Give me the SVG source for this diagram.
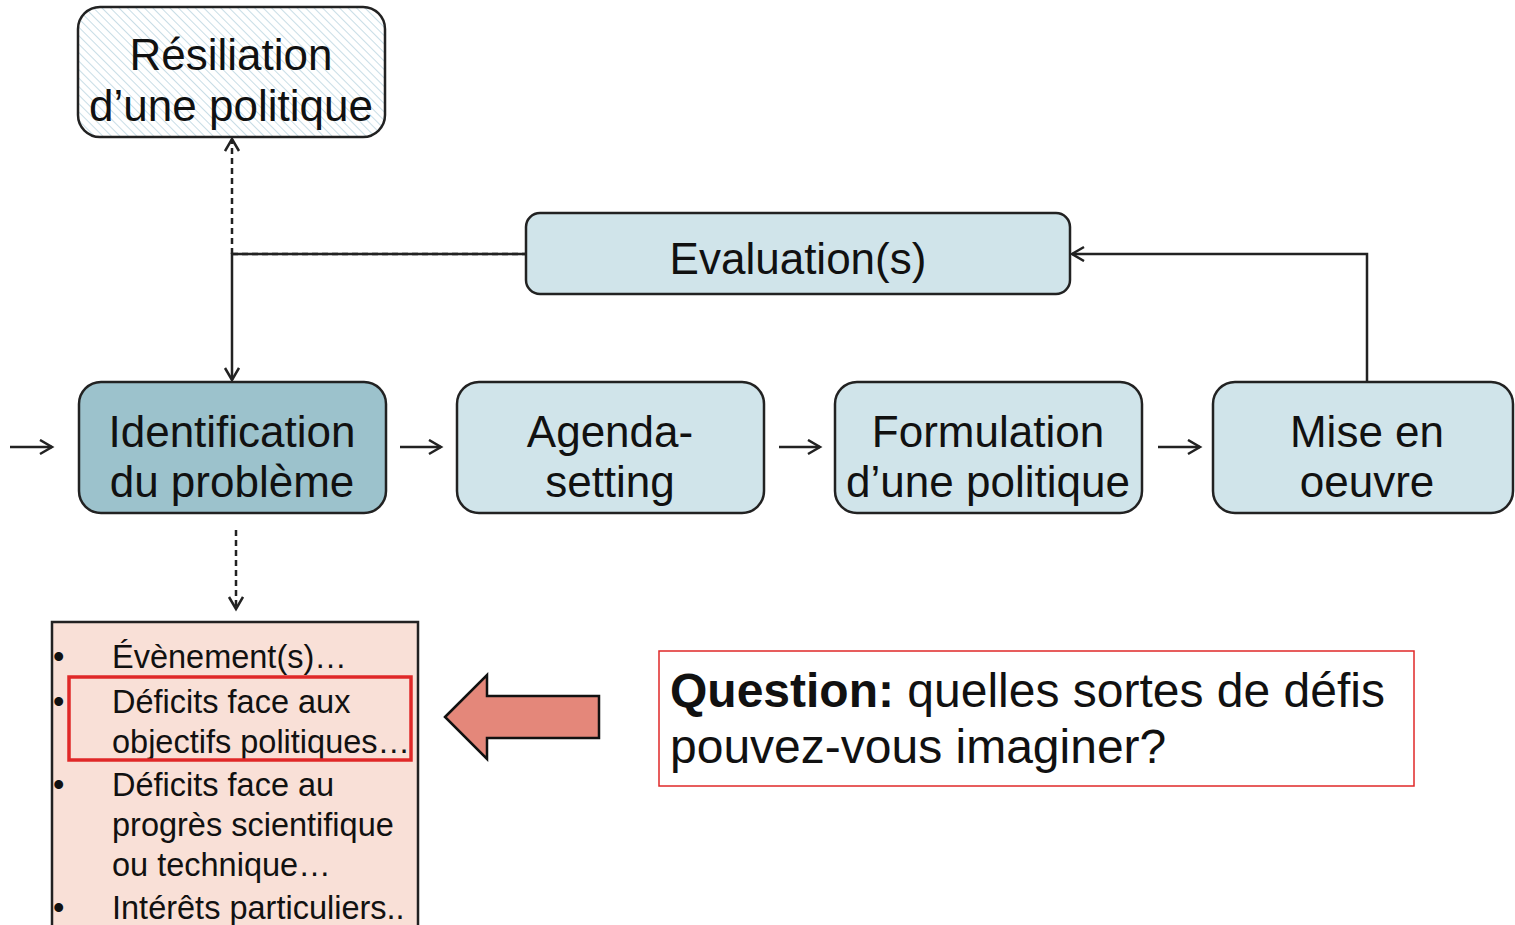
<svg xmlns="http://www.w3.org/2000/svg" width="1515" height="925" viewBox="0 0 1515 925">
<style>
.box{stroke:#222;stroke-width:2.5}
.lb{fill:#d0e4ea}
.t{font-family:"Liberation Sans",Arial,sans-serif;font-size:44px;fill:#111;text-anchor:middle}
.b{font-family:"Liberation Sans",Arial,sans-serif;font-size:32.5px;fill:#111}
.q{font-family:"Liberation Sans",Arial,sans-serif;font-size:48px;fill:#111}
.c{stroke:#222;stroke-width:2.5;fill:none}
.d{stroke-dasharray:6,4}
</style>
<defs>
<pattern id="hatch" width="6" height="6" patternUnits="userSpaceOnUse" patternTransform="rotate(-45)">
<rect width="6" height="6" fill="#fff"/>
<line x1="0" y1="0" x2="0" y2="6" stroke="#c8dde6" stroke-width="2"/>
</pattern>
<marker id="ah" markerUnits="userSpaceOnUse" markerWidth="20" markerHeight="20" refX="14" refY="8" orient="auto">
<path d="M2,1 L14,8 L2,15" fill="none" stroke="#222" stroke-width="2.5"/>
</marker>
</defs>
<g id="connectors">
<line class="c" x1="10" y1="447" x2="52" y2="447" marker-end="url(#ah)"/>
<line class="c" x1="400" y1="447" x2="441" y2="447" marker-end="url(#ah)"/>
<line class="c" x1="779" y1="447" x2="820" y2="447" marker-end="url(#ah)"/>
<line class="c" x1="1158" y1="447" x2="1200" y2="447" marker-end="url(#ah)"/>
<polyline class="c" points="1367,382 1367,254 1072,254" marker-end="url(#ah)"/>
<polyline class="c" points="526,254 232,254 232,380" marker-end="url(#ah)"/>
<line class="c d" x1="232" y1="254" x2="526" y2="254" stroke-width="3"/>
<line class="c d" x1="232" y1="254" x2="232" y2="139" marker-end="url(#ah)"/>
<line class="c d" x1="236" y1="530" x2="236" y2="609" marker-end="url(#ah)"/>
</g>
<g id="resiliation">
<rect class="box" x="78" y="7" width="307" height="130" rx="22" fill="url(#hatch)"/>
<text class="t" x="231" y="70">Résiliation</text>
<text class="t" x="231" y="121">d’une politique</text>
</g>
<g id="evaluation">
<rect class="box lb" x="526" y="213" width="544" height="81" rx="14"/>
<text class="t" x="798" y="274">Evaluation(s)</text>
</g>
<g id="identification">
<rect class="box" x="79" y="382" width="307" height="131" rx="22" fill="#9cc2cc"/>
<text class="t" x="232" y="447">Identification</text>
<text class="t" x="232" y="497">du problème</text>
</g>
<g id="agenda">
<rect class="box lb" x="457" y="382" width="307" height="131" rx="22"/>
<text class="t" x="610" y="447">Agenda-</text>
<text class="t" x="610" y="497">setting</text>
</g>
<g id="formulation">
<rect class="box lb" x="835" y="382" width="307" height="131" rx="22"/>
<text class="t" x="988" y="447">Formulation</text>
<text class="t" x="988" y="497">d’une politique</text>
</g>
<g id="mise">
<rect class="box lb" x="1213" y="382" width="300" height="131" rx="22"/>
<text class="t" x="1367" y="447">Mise en</text>
<text class="t" x="1367" y="497">oeuvre</text>
</g>
<g id="defis">
<rect x="52" y="622" width="366" height="320" fill="#f9e0d7" stroke="#222" stroke-width="2.5"/>
<g class="b">
<text x="53" y="668">•</text><text x="112" y="668">Évènement(s)…</text>
<text x="53" y="713">•</text><text x="112" y="713">Déficits face aux</text>
<text x="112" y="753">objectifs politiques…</text>
<text x="53" y="796">•</text><text x="112" y="796">Déficits face au</text>
<text x="112" y="836">progrès scientifique</text>
<text x="112" y="876">ou technique…</text>
<text x="53" y="919">•</text><text x="112" y="919">Intérêts particuliers..</text>
</g>
<rect x="69" y="677" width="342" height="83" fill="none" stroke="#e02828" stroke-width="3.5"/>
</g>
<g id="bigarrow">
<polygon points="445,717 487,675 487,696 599,696 599,738 487,738 487,759" fill="#e4877a" stroke="#111" stroke-width="2.5" stroke-linejoin="miter"/>
</g>
<g id="question">
<rect x="659" y="651" width="755" height="135" fill="#fff" stroke="#e02828" stroke-width="1.5"/>
<text class="q" x="670" y="707"><tspan font-weight="bold">Question:</tspan> quelles sortes de défis</text>
<text class="q" x="670" y="763">pouvez-vous imaginer?</text>
</g>
</svg>
